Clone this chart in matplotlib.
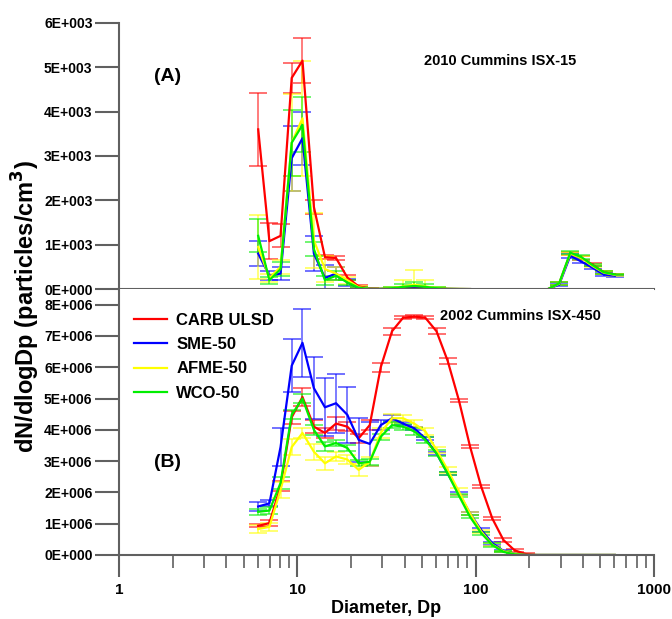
import numpy as np
import matplotlib.pyplot as plt
from matplotlib.lines import Line2D
from matplotlib.ticker import FixedLocator, NullFormatter

plt.rcParams['font.family'] = ['Liberation Sans', 'DejaVu Sans']
plt.rcParams['font.weight'] = 'bold'

# diametros (nm), 16 canales por decada
diam = [6.04, 6.98, 8.06, 9.31, 10.7, 12.4, 14.3, 16.5, 19.1, 22.1, 25.5,
        29.4, 34.0, 39.2, 45.3, 52.3, 60.4, 69.8, 80.6, 93.1, 107.5, 124.1,
        143.3, 165.5, 191.1, 220.7, 254.8, 294.3, 339.8, 392.4, 453.2, 523.3, 604.3]

series = ['CARB ULSD', 'SME-50', 'AFME-50', 'WCO-50']
colores = ['#ff0000', '#0000ff', '#ffff00', '#00ee00']

N = None
# ---- (A) 2010 Cummins ISX-15 ----
a_red = [3600, 1080, 1200, 4760, 5150, 1850, 720, 700, 260, 60, 10, 5, 10, 30, 40, 30, 15, 5, 2, 0,
         N, N, N, N, N, N, 0, 120, 800, 700, 550, 380, 330]
a_red_err = [830, 400, 260, 330, 500, 150, 40, 50, 60, 30, 10, 5, 10, 20, 30, 20, 10, 5, 2, 0,
             N, N, N, N, N, N, 0, 30, 40, 40, 30, 30, 20]
a_blue = [800, 300, 350, 2950, 3400, 800, 250, 350, 150, 30, 5, 2, 5, 10, 15, 10, 5, 2, 0, 0,
          N, N, N, N, N, N, 0, 100, 750, 620, 480, 330, 300]
a_blue_err = [280, 100, 150, 730, 600, 390, 300, 150, 80, 20, 5, 2, 5, 10, 20, 10, 5, 2, 0, 0,
              N, N, N, N, N, N, 0, 30, 40, 40, 30, 30, 20]
a_yel = [950, 250, 500, 3300, 3850, 1100, 450, 350, 200, 40, 5, 5, 20, 60, 100, 60, 20, 5, 2, 0,
         N, N, N, N, N, N, 0, 120, 800, 700, 520, 370, 320]
a_yel_err = [720, 100, 150, 1100, 1300, 620, 300, 150, 80, 20, 5, 5, 20, 150, 330, 150, 30, 5, 2, 0,
             N, N, N, N, N, N, 0, 30, 40, 40, 30, 30, 20]
a_grn = [1200, 200, 450, 3300, 3700, 900, 200, 300, 150, 30, 5, 5, 20, 50, 70, 50, 20, 5, 2, 0,
         N, N, N, N, N, N, 0, 130, 820, 720, 540, 380, 330]
a_grn_err = [370, 80, 150, 740, 620, 150, 100, 100, 50, 20, 5, 5, 20, 60, 80, 60, 20, 5, 2, 0,
             N, N, N, N, N, N, 0, 30, 40, 40, 30, 30, 20]

# ---- (B) 2002 Cummins ISX-450 (x1E6) ----
b_red = [0.93, 1.02, 2.2, 4.4, 5.05, 4.1, 3.9, 4.2, 4.1, 3.73, 4.15, 6.0, 7.15, 7.58, 7.62, 7.58,
         7.15, 6.2, 4.95, 3.47, 2.19, 1.17, 0.48, 0.15, 0.03, 0, 0, 0, 0, 0, 0, 0, 0]
b_red_err = [0.05, 0.1, 0.15, 0.2, 0.28, 0.2, 0.15, 0.2, 0.15, 0.15, 0.15, 0.15, 0.12, 0.05, 0.05, 0.05,
             0.1, 0.1, 0.05, 0.05, 0.05, 0.05, 0.05, 0.05, 0.02, 0, 0, 0, 0, 0, 0, 0, 0]
b_blue = [1.55, 1.65, 3.45, 6.05, 6.78, 5.33, 4.72, 4.85, 4.48, 3.68, 3.55, 4.15, 4.37, 4.2, 4.05, 3.72,
          3.25, 2.6, 1.97, 1.33, 0.8, 0.38, 0.13, 0.03, 0, 0, 0, 0, 0, 0, 0, 0, 0]
b_blue_err = [0.15, 0.1, 0.6, 0.85, 1.08, 1.0, 0.93, 0.95, 0.9, 0.7, 0.7, 0.15, 0.1, 0.05, 0.05, 0.05,
              0.05, 0.05, 0.05, 0.05, 0.05, 0.05, 0.02, 0.02, 0, 0, 0, 0, 0, 0, 0, 0, 0]
b_yel = [0.83, 0.9, 2.08, 3.45, 3.9, 3.3, 2.93, 3.15, 3.05, 2.72, 2.98, 3.9, 4.37, 4.37, 4.2, 3.95,
         3.36, 2.72, 2.03, 1.33, 0.75, 0.33, 0.12, 0.03, 0, 0, 0, 0, 0, 0, 0, 0, 0]
b_yel_err = [0.12, 0.12, 0.25, 0.25, 0.15, 0.25, 0.2, 0.15, 0.15, 0.2, 0.15, 0.15, 0.15, 0.1, 0.1, 0.1,
             0.1, 0.1, 0.1, 0.05, 0.05, 0.05, 0.02, 0.02, 0, 0, 0, 0, 0, 0, 0, 0, 0]
b_grn = [1.38, 1.42, 2.3, 4.48, 5.0, 4.0, 3.47, 3.58, 3.42, 2.93, 2.98, 3.78, 4.15, 4.1, 3.95, 3.68,
         3.25, 2.6, 1.9, 1.22, 0.7, 0.32, 0.1, 0.02, 0, 0, 0, 0, 0, 0, 0, 0, 0]
b_grn_err = [0.1, 0.1, 0.2, 0.15, 0.15, 0.15, 0.15, 0.1, 0.1, 0.1, 0.1, 0.1, 0.1, 0.1, 0.1, 0.1,
             0.1, 0.05, 0.05, 0.05, 0.05, 0.05, 0.02, 0.02, 0, 0, 0, 0, 0, 0, 0, 0, 0]

a_ticks = [0, 1000, 2000, 3000, 4000, 5000, 6000]
a_labels = ['0E+000', '1E+003', '2E+003', '3E+003', '4E+003', '5E+003', '6E+003']
b_ticks = [0, 1e6, 2e6, 3e6, 4e6, 5e6, 6e6, 7e6, 8e6]
b_labels = ['0E+000', '1E+006', '2E+006', '3E+006', '4E+006', '5E+006', '6E+006', '7E+006', '8E+006']
x_ticks = [1, 10, 100, 1000]
x_labels = ['1', '10', '100', '1000']


def f(v, escala=1.0):
    return np.array([np.nan if x is None else x * escala for x in v], dtype=float)


GRIS = '#606060'
fig = plt.figure(figsize=(6.72, 6.19), dpi=100)
axA = fig.add_axes([0.177, 0.533, 0.796, 0.430])
axB = fig.add_axes([0.177, 0.1034, 0.796, 0.4297])

datosA = [(a_red, a_red_err), (a_blue, a_blue_err), (a_yel, a_yel_err), (a_grn, a_grn_err)]
datosB = [(b_red, b_red_err), (b_blue, b_blue_err), (b_yel, b_yel_err), (b_grn, b_grn_err)]

for ax, datos, esc in [(axA, datosA, 1.0), (axB, datosB, 1e6)]:
    for (y, e), c in zip(datos, colores):
        ax.errorbar(diam, f(y, esc), yerr=f(e, esc), fmt='-', color=c, lw=1.6,
                    ecolor=c, elinewidth=1.2, capsize=6.5, capthick=1.2)
    for lines in ax.containers:
        for bar in lines[2]:
            bar.set_alpha(0.6)
        for cap in lines[1]:
            cap.set_alpha(0.65)
    ax.set_xscale('log')
    ax.set_xlim(1, 1000)
    for s in ['top', 'right']:
        ax.spines[s].set_visible(False)
    for s in ['left', 'bottom']:
        ax.spines[s].set_color(GRIS)
        ax.spines[s].set_linewidth(1.5)
    ax.tick_params(axis='y', direction='out', length=17, width=1.5, color=GRIS,
                   labelsize=10, pad=2)

# panel A
axA.set_ylim(0, 6000)
axA.set_yticks(a_ticks)
axA.set_yticklabels(a_labels)
axA.tick_params(axis='x', which='both', bottom=False, labelbottom=False)
axA.text(0.066, 0.78, '(A)', transform=axA.transAxes, fontsize=14, fontweight='bold')
axA.text(0.57, 0.84, '2010 Cummins ISX-15', transform=axA.transAxes, fontsize=10.5,
         fontweight='bold')

# panel B
axB.set_ylim(0, 8.5e6)
axB.set_yticks(b_ticks)
axB.set_yticklabels(b_labels)
axB.xaxis.set_major_locator(FixedLocator(x_ticks))
axB.set_xticklabels(x_labels)
minors = [m * 10 ** k for k in range(3) for m in range(2, 10)]
axB.xaxis.set_minor_locator(FixedLocator(minors))
axB.xaxis.set_minor_formatter(NullFormatter())
axB.tick_params(axis='x', which='major', direction='out', length=16, width=1.5,
                color=GRIS, labelsize=11, pad=4)
axB.tick_params(axis='x', which='minor', direction='out', length=9, width=1.2, color=GRIS)
axB.text(0.066, 0.33, '(B)', transform=axB.transAxes, fontsize=14, fontweight='bold')
axB.text(0.60, 0.885, '2002 Cummins ISX-450', transform=axB.transAxes, fontsize=10.5,
         fontweight='bold')
axB.set_xlabel('Diameter, Dp', fontsize=13, fontweight='bold', labelpad=2)

handles = [Line2D([], [], color=c, lw=1.6) for c in colores]
axB.legend(handles, series, loc='upper left', bbox_to_anchor=(0.0, 0.966), frameon=False,
           fontsize=12, handlelength=2.0, labelspacing=0.55, handletextpad=0.55)

fig.text(0.038, 0.504, 'dN/dlogDp (particles/cm$^\\mathbf{3}$)', rotation=90, fontsize=17,
         fontweight='bold', ha='center', va='center')

plt.savefig('out.png', dpi=100)
